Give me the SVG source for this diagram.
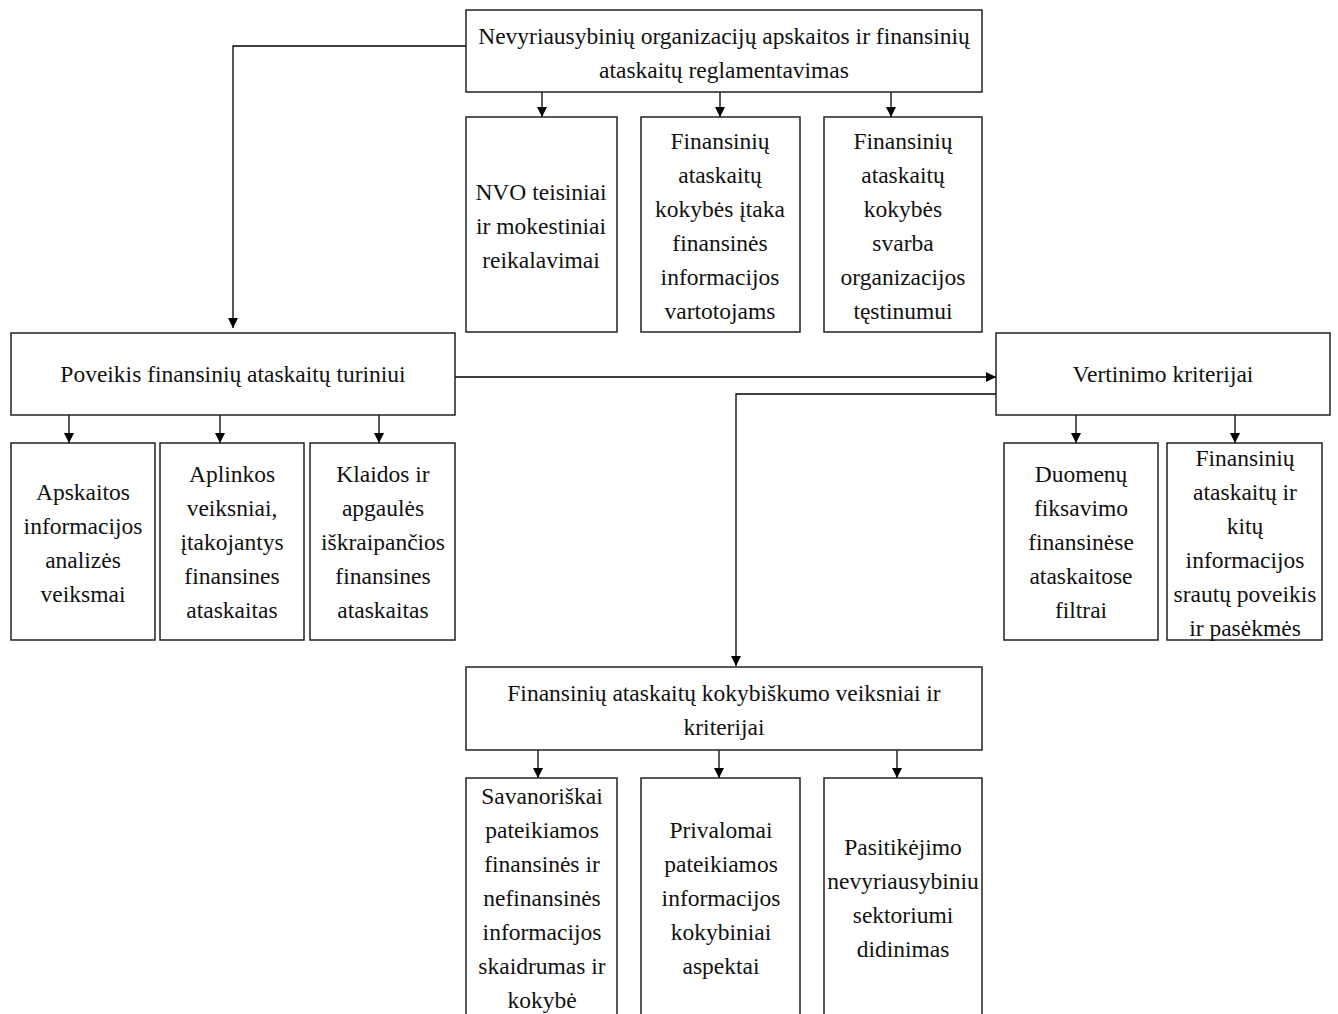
<svg xmlns="http://www.w3.org/2000/svg" width="1338" height="1014" viewBox="0 0 1338 1014">
<defs>
<marker id="ah" viewBox="0 0 10 10" refX="10" refY="5" markerWidth="10" markerHeight="10" markerUnits="userSpaceOnUse" orient="auto">
<path d="M0,0 L10,5 L0,10 Z" fill="#000"/>
</marker>
<style>
.b{fill:#fff;stroke:#222;stroke-width:1.5}
text{font-family:"Liberation Serif","Times New Roman",serif;font-size:23.5px;fill:#111;text-anchor:middle}
.c{fill:none;stroke:#000;stroke-width:1.3}
.a{marker-end:url(#ah)}
</style>
</defs>
<rect width="1338" height="1014" fill="#fff"/>
<g id="connectors">
<path class="c" d="M466,46 H233 V328" marker-end="url(#ah)"/>
<path class="c a" d="M542,92 V117"/>
<path class="c a" d="M720,92 V117"/>
<path class="c a" d="M891,92 V117"/>
<path class="c a" d="M455,377 H996"/>
<path class="c" d="M996,394 H736 V666" marker-end="url(#ah)"/>
<path class="c a" d="M69,415 V443"/>
<path class="c a" d="M220,415 V443"/>
<path class="c a" d="M379,415 V443"/>
<path class="c a" d="M1076,415 V443"/>
<path class="c a" d="M1235,415 V443"/>
<path class="c a" d="M538,750 V778"/>
<path class="c a" d="M719,750 V778"/>
<path class="c a" d="M897,750 V778"/>
</g>
<g id="n-top"><rect class="b" x="466" y="10" width="516" height="82"/>
<text x="724" y="44">Nevyriausybinių organizacijų apskaitos ir finansinių</text>
<text x="724" y="78">ataskaitų reglamentavimas</text></g>
<g id="n-nvo"><rect class="b" x="466" y="117" width="151" height="215"/>
<text x="541" y="200">NVO teisiniai</text><text x="541" y="234">ir mokestiniai</text><text x="541" y="268">reikalavimai</text></g>
<g id="n-itaka"><rect class="b" x="641" y="117" width="159" height="215"/>
<text x="720" y="149">Finansinių</text><text x="720" y="183">ataskaitų</text><text x="720" y="217">kokybės įtaka</text><text x="720" y="251">finansinės</text><text x="720" y="285">informacijos</text><text x="720" y="319">vartotojams</text></g>
<g id="n-svarba"><rect class="b" x="824" y="117" width="158" height="215"/>
<text x="903" y="149">Finansinių</text><text x="903" y="183">ataskaitų</text><text x="903" y="217">kokybės</text><text x="903" y="251">svarba</text><text x="903" y="285">organizacijos</text><text x="903" y="319">tęstinumui</text></g>
<g id="n-poveikis"><rect class="b" x="11" y="333" width="444" height="82"/>
<text x="233" y="382">Poveikis finansinių ataskaitų turiniui</text></g>
<g id="n-vertinimo"><rect class="b" x="996" y="333" width="334" height="82"/>
<text x="1163" y="382">Vertinimo kriterijai</text></g>
<g id="n-apskaitos"><rect class="b" x="11" y="443" width="144" height="197"/>
<text x="83" y="500">Apskaitos</text><text x="83" y="534">informacijos</text><text x="83" y="568">analizės</text><text x="83" y="602">veiksmai</text></g>
<g id="n-aplinkos"><rect class="b" x="160" y="443" width="144" height="197"/>
<text x="232" y="482">Aplinkos</text><text x="232" y="516">veiksniai,</text><text x="232" y="550">įtakojantys</text><text x="232" y="584">finansines</text><text x="232" y="618">ataskaitas</text></g>
<g id="n-klaidos"><rect class="b" x="310" y="443" width="145" height="197"/>
<text x="383" y="482">Klaidos ir</text><text x="383" y="516">apgaulės</text><text x="383" y="550">iškraipančios</text><text x="383" y="584">finansines</text><text x="383" y="618">ataskaitas</text></g>
<g id="n-duomenu"><rect class="b" x="1004" y="443" width="154" height="197"/>
<text x="1081" y="482">Duomenų</text><text x="1081" y="516">fiksavimo</text><text x="1081" y="550">finansinėse</text><text x="1081" y="584">ataskaitose</text><text x="1081" y="618">filtrai</text></g>
<g id="n-srautu"><rect class="b" x="1167" y="443" width="155" height="197"/>
<text x="1245" y="466">Finansinių</text><text x="1245" y="500">ataskaitų ir</text><text x="1245" y="534">kitų</text><text x="1245" y="568">informacijos</text><text x="1245" y="602">srautų poveikis</text><text x="1245" y="636">ir pasėkmės</text></g>
<g id="n-kokybiskumo"><rect class="b" x="466" y="667" width="516" height="83"/>
<text x="724" y="701">Finansinių ataskaitų kokybiškumo veiksniai ir</text>
<text x="724" y="735">kriterijai</text></g>
<g id="n-savanoriskai"><rect class="b" x="466" y="778" width="151" height="250"/>
<text x="542" y="804">Savanoriškai</text><text x="542" y="838">pateikiamos</text><text x="542" y="872">finansinės ir</text><text x="542" y="906">nefinansinės</text><text x="542" y="940">informacijos</text><text x="542" y="974">skaidrumas ir</text><text x="542" y="1008">kokybė</text></g>
<g id="n-privalomai"><rect class="b" x="641" y="778" width="159" height="250"/>
<text x="721" y="838">Privalomai</text><text x="721" y="872">pateikiamos</text><text x="721" y="906">informacijos</text><text x="721" y="940">kokybiniai</text><text x="721" y="974">aspektai</text></g>
<g id="n-pasitikejimo"><rect class="b" x="824" y="778" width="158" height="250"/>
<text x="903" y="855">Pasitikėjimo</text><text x="903" y="889">nevyriausybiniu</text><text x="903" y="923">sektoriumi</text><text x="903" y="957">didinimas</text></g>
</svg>
